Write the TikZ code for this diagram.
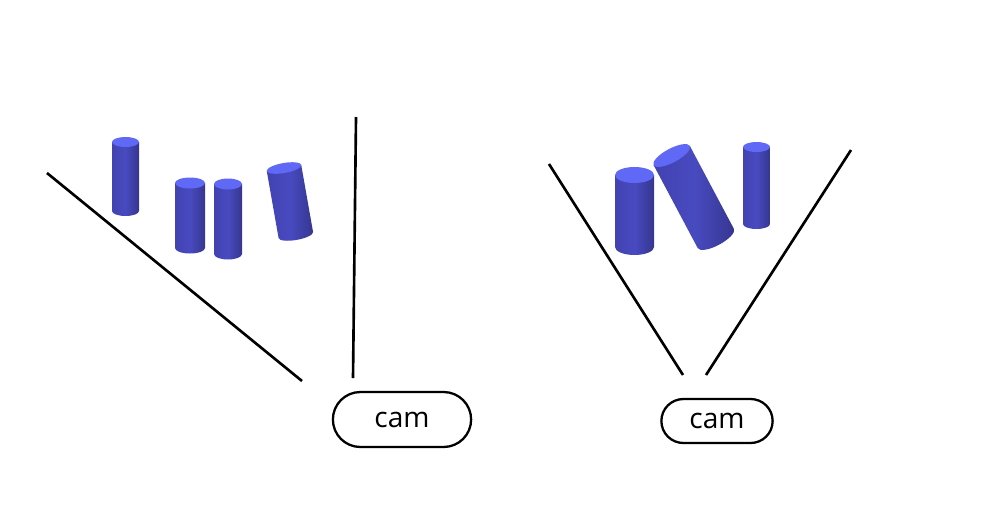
\documentclass[tikz,border=0pt]{standalone}
\usepackage{fontspec}
\setmainfont{Open Sans}
\usetikzlibrary{shapes.misc,positioning}
\definecolor{cylleft}{RGB}{66,66,176}
\definecolor{cylmid}{RGB}{72,74,192}
\definecolor{cylright}{RGB}{54,54,142}
\definecolor{cyltop}{RGB}{96,104,246}

\begin{document}
\begin{tikzpicture}[x=0.02cm,y=0.02cm,
	cam/.style={rounded rectangle,draw,line width=1.3pt,font=\fontsize{16}{19}\selectfont},
	ray/.style={line width=1.5pt},
	body/.style={left color=cylleft,right color=cylright,middle color=cylmid},
	lid/.style={fill=cyltop}]
\useasboundingbox (0,0) rectangle (982,512);

% cylinders: top centre / length / half width / lid radius / tilt
\foreach \x/\y/\l/\w/\r/\a in {125.5/370/69/13.5/5/0, 190/329/65/15/5.5/0, 228/328/70/14/5.5/0, 284/344/68/17.5/5/10,
	634.5/337/72/19.5/8/0, 671.7/356.5/94/20.5/7/28, 756.5/365/77/13.5/5/0}
{
	\begin{scope}[shift={(\x,\y)},rotate=\a]
		\shade[body] (-\w,0) -- (-\w,-\l) arc[start angle=180,end angle=360,x radius=\w,y radius=\r] -- (\w,0) -- cycle;
		\fill[lid] (0,0) ellipse[x radius=\w,y radius=\r];
	\end{scope}
}

\node[cam,minimum width=3.0cm,minimum height=1.1cm] (camL) at (402,92.5) {cam};
\node[cam,minimum width=2.46cm,minimum height=0.88cm] (camR) at (717,91) {cam};

\coordinate (l1) at (47,339);
\coordinate (l2) at (302,131);
\coordinate (l3) at (356,395);
\coordinate (l4) at (353,134);
\coordinate (r1) at (549,348);
\coordinate (r2) at (683,137);
\coordinate (r3) at (851,362);
\coordinate (r4) at (706,137);

\draw[ray] (l1) -- (l2);
\draw[ray] (l3) -- (l4);
\draw[ray] (r1) -- (r2);
\draw[ray] (r3) -- (r4);
\end{tikzpicture}
\end{document}
